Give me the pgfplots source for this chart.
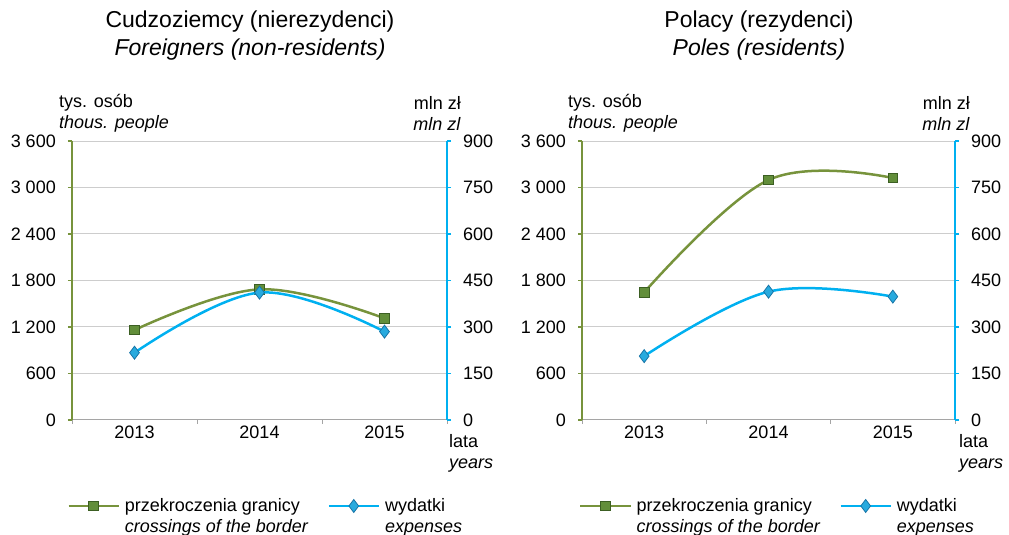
\documentclass[border=0pt]{standalone}
\usepackage{pgfplots}
\pgfplotsset{compat=1.18}
\usepackage{fontspec}
\setmainfont{Liberation Sans}
\definecolor{cgreen}{RGB}{119,147,60}
\definecolor{cblue}{RGB}{0,176,240}
\definecolor{cgrid}{RGB}{205,205,205}
\definecolor{caxis}{RGB}{165,165,165}
\definecolor{sqfill}{RGB}{98,142,58}
\definecolor{sqdraw}{RGB}{60,95,35}
\definecolor{dmfill}{RGB}{40,170,222}
\definecolor{dmdraw}{RGB}{25,118,168}
\newcommand\fs{\fontsize{18bp}{21bp}\selectfont}
\newcommand\ft{\fontsize{23bp}{28bp}\selectfont}
\pgfplotsset{
  base/.style={scale only axis, xmin=-0.5, xmax=2.5, ymin=0, height=279bp,
    anchor=south west, font=\fs, /pgf/number format/assume math mode=true,
    tick align=outside, clip=false, major tick length=4bp},
  leftax/.style={base, ymax=3600, ytick={0,600,...,3600},
    yticklabels={0,600,1 200,1 800,2 400,3 000,3 600},
    axis x line*=bottom, axis y line*=left,
    ymajorgrids, grid style={cgrid, line width=1bp},
    x axis line style={caxis, line width=1bp, -},
    y axis line style={cgreen, line width=2.5bp, -},
    ytick style={cgreen, line width=1.5bp},
    xtick={-0.5,0.5,1.5,2.5}, xticklabels={},
    xtick style={caxis, line width=1bp}, 
    extra x ticks={0,1,2}, extra x tick labels={2013,2014,2015},
    extra x tick style={major tick length=0pt},
    yticklabel style={inner sep=0pt, xshift=-12bp},
    xticklabel style={inner sep=0pt, yshift=-6bp}},
  rightax/.style={base, ymax=900, ytick={0,150,...,900},
    axis y line*=right, axis x line=none,
    y axis line style={cblue, line width=2.5bp, -},
    ytick style={cblue, line width=1.5bp},
    yticklabel style={inner sep=0pt, xshift=12bp},
    legend columns=2, legend cell align=left,
    legend image code/.code={\draw[mark repeat=2,mark phase=2,#1] plot coordinates {(0bp,10bp) (25bp,10bp) (50bp,10bp)};},
    legend style={draw=none, fill=none, inner sep=0pt, anchor=west,
      nodes={align=left, inner sep=0pt, font=\fs},
      /tikz/every odd column/.append style={column sep=5bp},
      /tikz/every even column/.append style={column sep=19bp}}},
  gline/.style={cgreen, line width=2.5bp, smooth, tension=0.62, mark=square*, mark size=4.8bp,
    mark options={fill=sqfill, draw=sqdraw, line width=0.8bp}},
  bline/.style={cblue, line width=2.5bp, smooth, tension=0.62, mark=diamond*, mark size=6.5bp,
    mark options={fill=dmfill, draw=dmdraw, line width=0.8bp}},
}
\begin{document}
\begin{tikzpicture}
\path[use as bounding box] (0,0) rectangle (1009bp,535bp);
% ---------- left panel ----------
\begin{axis}[leftax, at={(72bp,115bp)}, width=375bp]
\addplot[gline] coordinates {(0,1161) (1,1686) (2,1312)};
\end{axis}
\begin{axis}[rightax, at={(72bp,115bp)}, width=375bp,
  legend style={at={(-0.013,-0.344)}}]
\addlegendimage{gline}
\addlegendentry{przekroczenia granicy\\\textit{crossings of the border}}
\addplot[bline] coordinates {(0,217) (1,411) (2,285)};
\addlegendentry{wydatki\\\textit{expenses}}
\end{axis}
% ---------- right panel ----------
\begin{axis}[leftax, at={(582bp,115bp)}, width=373bp]
\addplot[gline] coordinates {(0,1647) (1,3097) (2,3123)};
\end{axis}
\begin{axis}[rightax, at={(582bp,115bp)}, width=373bp,
  legend style={at={(-0.008,-0.344)}}]
\addlegendimage{gline}
\addlegendentry{przekroczenia granicy\\\textit{crossings of the border}}
\addplot[bline] coordinates {(0,206) (1,414) (2,398)};
\addlegendentry{wydatki\\\textit{expenses}}
\end{axis}
% ---------- texts ----------
\node[font=\ft, align=center] at (250bp,499bp) {Cudzoziemcy (nierezydenci)\\\textit{Foreigners (non-residents)}};
\node[font=\ft, align=center] at (759bp,499bp) {Polacy (rezydenci)\\\textit{Poles (residents)}};
\node[font=\fs, align=left, anchor=west, inner sep=0pt] at (59bp,421.5bp) {tys. osób\\\textit{thous. people}};
\node[font=\fs, align=right, anchor=east, inner sep=0pt] at (461bp,421.5bp) {mln zł\\\textit{mln zl}};
\node[font=\fs, align=left, anchor=west, inner sep=0pt] at (449bp,82bp) {lata\\\textit{years}};
\node[font=\fs, align=left, anchor=west, inner sep=0pt] at (568bp,421.5bp) {tys. osób\\\textit{thous. people}};
\node[font=\fs, align=right, anchor=east, inner sep=0pt] at (970bp,421.5bp) {mln zł\\\textit{mln zl}};
\node[font=\fs, align=left, anchor=west, inner sep=0pt] at (959bp,82bp) {lata\\\textit{years}};
\end{tikzpicture}
\end{document}
